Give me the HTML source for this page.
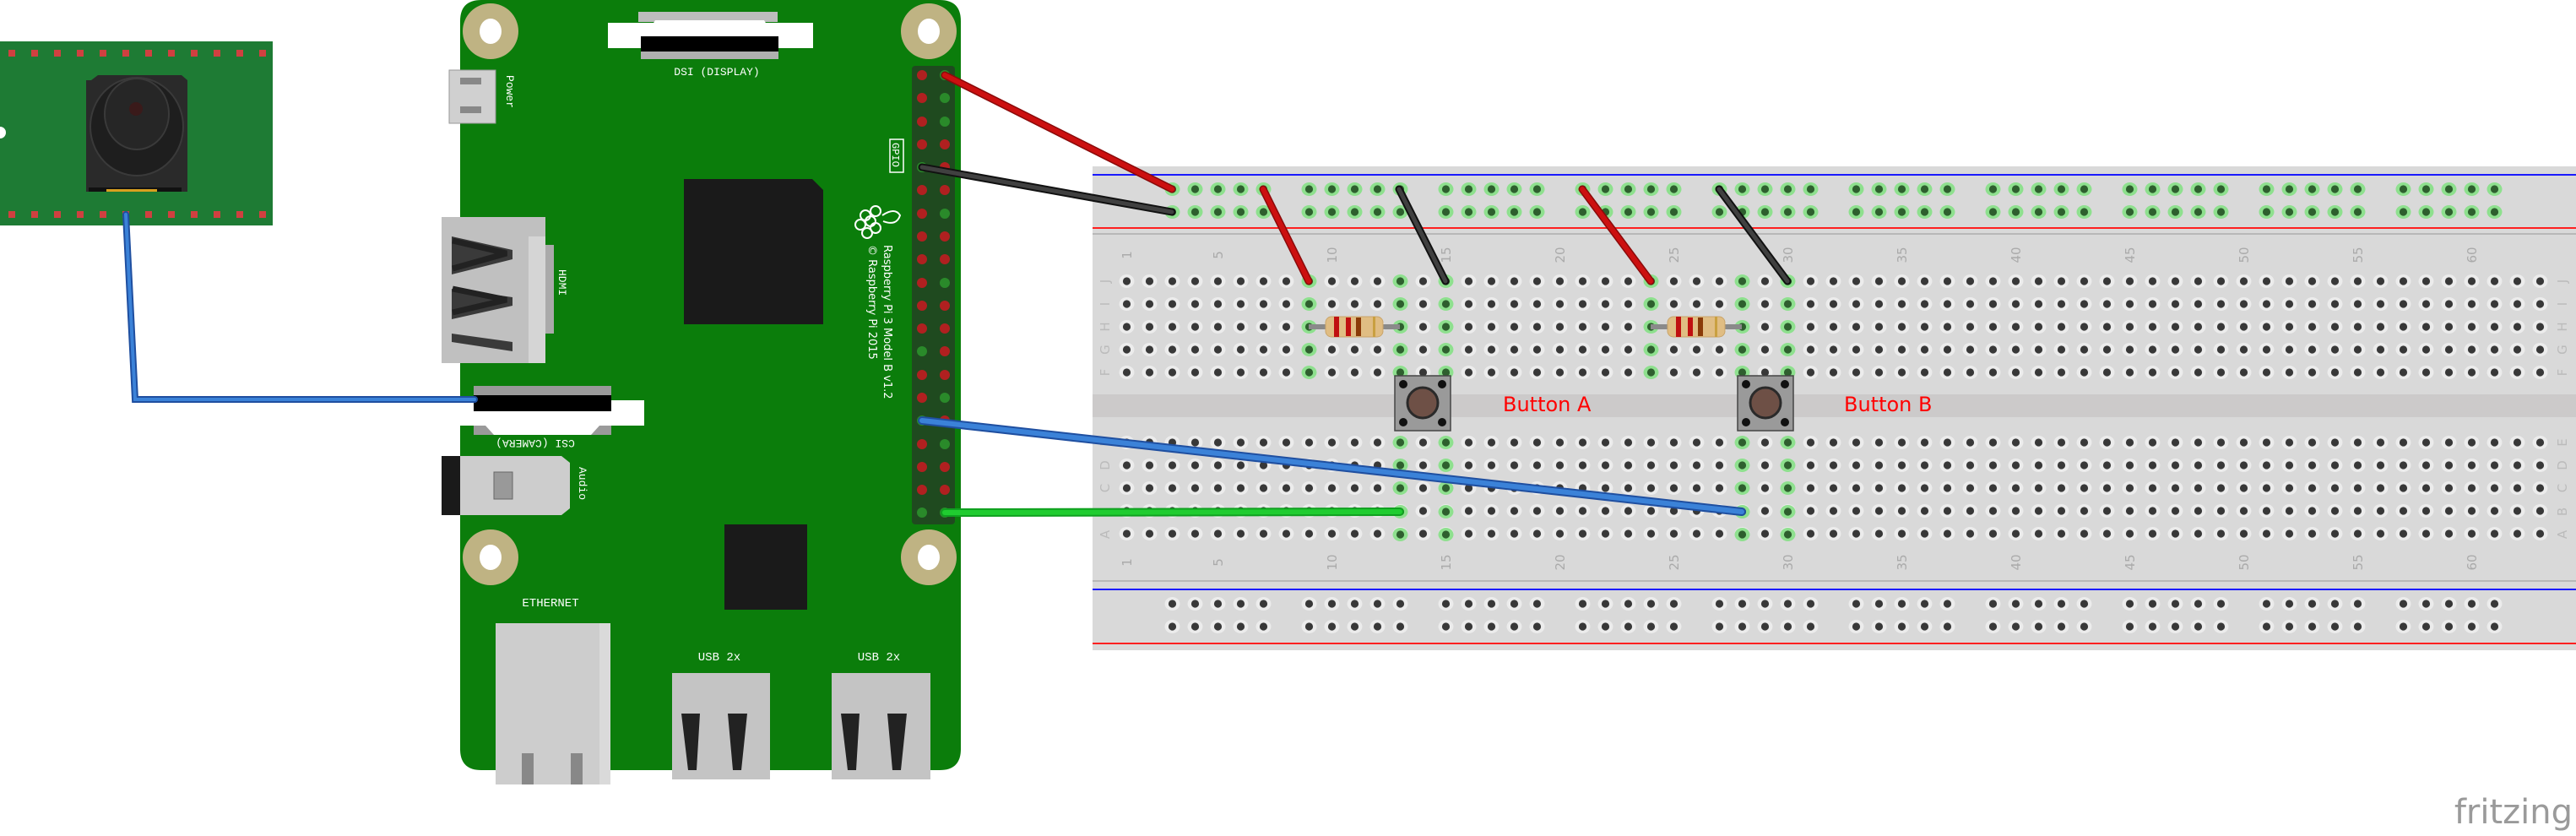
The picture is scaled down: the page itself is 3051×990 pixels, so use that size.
<!DOCTYPE html>
<html><head><meta charset="utf-8"><style>
html,body{margin:0;padding:0;background:#fff;}
svg{display:block;}
</style></head><body>
<svg width="3051" height="990" viewBox="0 0 3051 990" xmlns="http://www.w3.org/2000/svg">
<defs>
<pattern id="holes" x="1321" y="319.5" width="27" height="27" patternUnits="userSpaceOnUse">
<ellipse cx="13.5" cy="13.5" rx="9" ry="8" fill="#ececec"/><circle cx="13.5" cy="13.5" r="4.6" fill="#383838"/>
</pattern>
<pattern id="holesB" x="1321" y="510.5" width="27" height="27" patternUnits="userSpaceOnUse">
<ellipse cx="13.5" cy="13.5" rx="9" ry="8" fill="#ececec"/><circle cx="13.5" cy="13.5" r="4.6" fill="#383838"/>
</pattern>
<pattern id="railG" x="1375" y="210.5" width="162" height="27" patternUnits="userSpaceOnUse">
<g><ellipse cx="13.5" cy="13.5" rx="9" ry="8" fill="#8ee08e"/><circle cx="13.5" cy="13.5" r="4.6" fill="#2e5f2e"/>
<ellipse cx="40.5" cy="13.5" rx="9" ry="8" fill="#8ee08e"/><circle cx="40.5" cy="13.5" r="4.6" fill="#2e5f2e"/>
<ellipse cx="67.5" cy="13.5" rx="9" ry="8" fill="#8ee08e"/><circle cx="67.5" cy="13.5" r="4.6" fill="#2e5f2e"/>
<ellipse cx="94.5" cy="13.5" rx="9" ry="8" fill="#8ee08e"/><circle cx="94.5" cy="13.5" r="4.6" fill="#2e5f2e"/>
<ellipse cx="121.5" cy="13.5" rx="9" ry="8" fill="#8ee08e"/><circle cx="121.5" cy="13.5" r="4.6" fill="#2e5f2e"/></g>
</pattern>
<pattern id="railD" x="1375" y="701.5" width="162" height="27" patternUnits="userSpaceOnUse">
<ellipse cx="13.5" cy="13.5" rx="9" ry="8" fill="#ececec"/><circle cx="13.5" cy="13.5" r="4.6" fill="#383838"/>
<ellipse cx="40.5" cy="13.5" rx="9" ry="8" fill="#ececec"/><circle cx="40.5" cy="13.5" r="4.6" fill="#383838"/>
<ellipse cx="67.5" cy="13.5" rx="9" ry="8" fill="#ececec"/><circle cx="67.5" cy="13.5" r="4.6" fill="#383838"/>
<ellipse cx="94.5" cy="13.5" rx="9" ry="8" fill="#ececec"/><circle cx="94.5" cy="13.5" r="4.6" fill="#383838"/>
<ellipse cx="121.5" cy="13.5" rx="9" ry="8" fill="#ececec"/><circle cx="121.5" cy="13.5" r="4.6" fill="#383838"/>
</pattern>
<g id="gh"><ellipse cx="0" cy="0" rx="9" ry="8" fill="#8ee08e"/><circle cx="0" cy="0" r="4.6" fill="#2e5f2e"/></g>
</defs>

<!-- Breadboard -->
<rect x="1294" y="197" width="1757" height="573" fill="#d9d9d9"/>
<line x1="1294" y1="207" x2="3051" y2="207" stroke="#1a1aff" stroke-width="2"/>
<line x1="1294" y1="270" x2="3051" y2="270" stroke="#ff2020" stroke-width="2"/>
<line x1="1294" y1="277" x2="3051" y2="277" stroke="#b8b8b8" stroke-width="2"/>
<line x1="1294" y1="688" x2="3051" y2="688" stroke="#b8b8b8" stroke-width="2"/>
<line x1="1294" y1="698" x2="3051" y2="698" stroke="#1a1aff" stroke-width="2"/>
<line x1="1294" y1="762" x2="3051" y2="762" stroke="#ff2020" stroke-width="2"/>
<rect x="1294" y="467" width="1757" height="27" fill="#cccaca"/>
<rect x="1375" y="210.5" width="1593" height="54" fill="url(#railG)"/>
<rect x="1375" y="701.5" width="1593" height="54" fill="url(#railD)"/>
<rect x="1321" y="319.5" width="1701" height="135" fill="url(#holes)"/>
<rect x="1321" y="510.5" width="1701" height="135" fill="url(#holesB)"/>
<!-- green terminal holes -->
<g>
<use href="#gh" x="1550.5" y="333"/><use href="#gh" x="1550.5" y="360"/><use href="#gh" x="1550.5" y="387"/><use href="#gh" x="1550.5" y="414"/><use href="#gh" x="1550.5" y="441"/>
<use href="#gh" x="1658.5" y="333"/><use href="#gh" x="1658.5" y="360"/><use href="#gh" x="1658.5" y="387"/><use href="#gh" x="1658.5" y="414"/><use href="#gh" x="1658.5" y="441"/>
<use href="#gh" x="1712.5" y="333"/><use href="#gh" x="1712.5" y="360"/><use href="#gh" x="1712.5" y="387"/><use href="#gh" x="1712.5" y="414"/><use href="#gh" x="1712.5" y="441"/>
<use href="#gh" x="1955.5" y="333"/><use href="#gh" x="1955.5" y="360"/><use href="#gh" x="1955.5" y="387"/><use href="#gh" x="1955.5" y="414"/><use href="#gh" x="1955.5" y="441"/>
<use href="#gh" x="2063.5" y="333"/><use href="#gh" x="2063.5" y="360"/><use href="#gh" x="2063.5" y="387"/><use href="#gh" x="2063.5" y="414"/><use href="#gh" x="2063.5" y="441"/>
<use href="#gh" x="2117.5" y="333"/><use href="#gh" x="2117.5" y="360"/><use href="#gh" x="2117.5" y="387"/><use href="#gh" x="2117.5" y="414"/><use href="#gh" x="2117.5" y="441"/>
<use href="#gh" x="1658.5" y="524"/><use href="#gh" x="1658.5" y="551"/><use href="#gh" x="1658.5" y="578"/><use href="#gh" x="1658.5" y="606"/><use href="#gh" x="1658.5" y="633"/>
<use href="#gh" x="1712.5" y="524"/><use href="#gh" x="1712.5" y="551"/><use href="#gh" x="1712.5" y="578"/><use href="#gh" x="1712.5" y="606"/><use href="#gh" x="1712.5" y="633"/>
<use href="#gh" x="2063.5" y="524"/><use href="#gh" x="2063.5" y="551"/><use href="#gh" x="2063.5" y="578"/><use href="#gh" x="2063.5" y="606"/><use href="#gh" x="2063.5" y="633"/>
<use href="#gh" x="2117.5" y="524"/><use href="#gh" x="2117.5" y="551"/><use href="#gh" x="2117.5" y="578"/><use href="#gh" x="2117.5" y="606"/><use href="#gh" x="2117.5" y="633"/>
</g>
<!-- numbers -->
<g font-family="DejaVu Sans, sans-serif" font-size="15" fill="#aaaaaa" text-anchor="middle">
<text transform="translate(1340,302) rotate(-90)">1</text>
<text transform="translate(1448,302) rotate(-90)">5</text>
<text transform="translate(1583,302) rotate(-90)">10</text>
<text transform="translate(1718,302) rotate(-90)">15</text>
<text transform="translate(1853,302) rotate(-90)">20</text>
<text transform="translate(1988,302) rotate(-90)">25</text>
<text transform="translate(2123,302) rotate(-90)">30</text>
<text transform="translate(2258,302) rotate(-90)">35</text>
<text transform="translate(2393,302) rotate(-90)">40</text>
<text transform="translate(2528,302) rotate(-90)">45</text>
<text transform="translate(2663,302) rotate(-90)">50</text>
<text transform="translate(2798,302) rotate(-90)">55</text>
<text transform="translate(2933,302) rotate(-90)">60</text>
<text transform="translate(1340,666) rotate(-90)">1</text>
<text transform="translate(1448,666) rotate(-90)">5</text>
<text transform="translate(1583,666) rotate(-90)">10</text>
<text transform="translate(1718,666) rotate(-90)">15</text>
<text transform="translate(1853,666) rotate(-90)">20</text>
<text transform="translate(1988,666) rotate(-90)">25</text>
<text transform="translate(2123,666) rotate(-90)">30</text>
<text transform="translate(2258,666) rotate(-90)">35</text>
<text transform="translate(2393,666) rotate(-90)">40</text>
<text transform="translate(2528,666) rotate(-90)">45</text>
<text transform="translate(2663,666) rotate(-90)">50</text>
<text transform="translate(2798,666) rotate(-90)">55</text>
<text transform="translate(2933,666) rotate(-90)">60</text>
</g>
<g font-family="DejaVu Sans, sans-serif" font-size="15" fill="#bbbbbb" text-anchor="middle">
<text transform="translate(1314,333) rotate(-90)">J</text><text transform="translate(1314,360) rotate(-90)">I</text><text transform="translate(1314,387) rotate(-90)">H</text><text transform="translate(1314,414) rotate(-90)">G</text><text transform="translate(1314,441) rotate(-90)">F</text>
<text transform="translate(1314,524) rotate(-90)">E</text><text transform="translate(1314,551) rotate(-90)">D</text><text transform="translate(1314,578) rotate(-90)">C</text><text transform="translate(1314,606) rotate(-90)">B</text><text transform="translate(1314,633) rotate(-90)">A</text>
<text transform="translate(3040,333) rotate(-90)">J</text><text transform="translate(3040,360) rotate(-90)">I</text><text transform="translate(3040,387) rotate(-90)">H</text><text transform="translate(3040,414) rotate(-90)">G</text><text transform="translate(3040,441) rotate(-90)">F</text>
<text transform="translate(3040,524) rotate(-90)">E</text><text transform="translate(3040,551) rotate(-90)">D</text><text transform="translate(3040,578) rotate(-90)">C</text><text transform="translate(3040,606) rotate(-90)">B</text><text transform="translate(3040,633) rotate(-90)">A</text>
</g>

<!-- resistors -->
<g>
<line x1="1550" y1="387" x2="1658" y2="387" stroke="#8a8a8a" stroke-width="6"/>
<rect x="1570" y="375" width="68" height="24" rx="7" fill="#e0bd83" stroke="#c9a46a"/>
<rect x="1580" y="375" width="6" height="24" fill="#c01010"/><rect x="1594" y="376" width="6" height="22" fill="#c01010"/><rect x="1606" y="376" width="6" height="22" fill="#8a3a08"/><rect x="1626" y="375" width="3" height="24" fill="#c9a040"/>
<line x1="1955" y1="387" x2="2063" y2="387" stroke="#8a8a8a" stroke-width="6"/>
<rect x="1975" y="375" width="68" height="24" rx="7" fill="#e0bd83" stroke="#c9a46a"/>
<rect x="1985" y="375" width="6" height="24" fill="#c01010"/><rect x="1999" y="376" width="6" height="22" fill="#c01010"/><rect x="2011" y="376" width="6" height="22" fill="#8a3a08"/><rect x="2031" y="375" width="3" height="24" fill="#c9a040"/>
</g>
<!-- buttons -->
<g>
<rect x="1652" y="445" width="66" height="65" fill="#9a9a9a" stroke="#444" stroke-width="1.5"/>
<circle cx="1685" cy="477" r="18" fill="#6e5046" stroke="#2a2a2a" stroke-width="3"/>
<circle cx="1662" cy="455" r="5" fill="#111"/><circle cx="1708" cy="455" r="5" fill="#111"/><circle cx="1662" cy="500" r="5" fill="#111"/><circle cx="1708" cy="500" r="5" fill="#111"/>
<rect x="2058" y="445" width="66" height="65" fill="#9a9a9a" stroke="#444" stroke-width="1.5"/>
<circle cx="2091" cy="477" r="18" fill="#6e5046" stroke="#2a2a2a" stroke-width="3"/>
<circle cx="2068" cy="455" r="5" fill="#111"/><circle cx="2114" cy="455" r="5" fill="#111"/><circle cx="2068" cy="500" r="5" fill="#111"/><circle cx="2114" cy="500" r="5" fill="#111"/>
</g>
<g font-family="DejaVu Sans, sans-serif" font-size="24" fill="#ff0000">
<text x="1780" y="487">Button A</text>
<text x="2184" y="487">Button B</text>
</g>

<!-- Camera module -->
<rect x="0" y="49" width="323" height="218" fill="#1e7b34"/>
<circle cx="0" cy="157" r="7" fill="#fff"/>
<g fill="#d04040">
<rect x="10" y="59" width="8" height="8"/><rect x="37" y="59" width="8" height="8"/><rect x="64" y="59" width="8" height="8"/><rect x="91" y="59" width="8" height="8"/><rect x="118" y="59" width="8" height="8"/><rect x="145" y="59" width="8" height="8"/><rect x="172" y="59" width="8" height="8"/><rect x="199" y="59" width="8" height="8"/><rect x="226" y="59" width="8" height="8"/><rect x="253" y="59" width="8" height="8"/><rect x="280" y="59" width="8" height="8"/><rect x="307" y="59" width="8" height="8"/>
<rect x="10" y="250" width="8" height="8"/><rect x="37" y="250" width="8" height="8"/><rect x="64" y="250" width="8" height="8"/><rect x="91" y="250" width="8" height="8"/><rect x="118" y="250" width="8" height="8"/><rect x="145" y="250" width="8" height="8"/><rect x="172" y="250" width="8" height="8"/><rect x="199" y="250" width="8" height="8"/><rect x="226" y="250" width="8" height="8"/><rect x="253" y="250" width="8" height="8"/><rect x="280" y="250" width="8" height="8"/><rect x="307" y="250" width="8" height="8"/>
</g>
<path d="M108 95 L116 89 L215 89 L222 95 L222 227 L102 227 L102 95 Z" fill="#2a2a2a"/>
<ellipse cx="162" cy="150" rx="55" ry="58" fill="#1e1e1e" stroke="#3a3a3a" stroke-width="2"/>
<ellipse cx="162" cy="135" rx="38" ry="42" fill="#262626" stroke="#3a3a3a" stroke-width="2"/>
<circle cx="161" cy="129" r="8" fill="#3a1a1a"/>
<rect x="105" y="222" width="110" height="5" fill="#111"/>
<rect x="126" y="224" width="60" height="3" fill="#d8a020"/>

<!-- Raspberry Pi -->
<path d="M570 0 H1113 Q1138 0 1138 25 V887 Q1138 912 1113 912 H570 Q545 912 545 887 V25 Q545 0 570 0 Z" fill="#0b7d0b"/>
<g fill="#bfb383"><circle cx="581" cy="37" r="33"/><circle cx="1100" cy="37" r="33"/><circle cx="581" cy="660" r="33"/><circle cx="1100" cy="660" r="33"/></g>
<g fill="#fff"><ellipse cx="581" cy="37" rx="13" ry="15"/><ellipse cx="1100" cy="37" rx="13" ry="15"/><ellipse cx="581" cy="660" rx="13" ry="15"/><ellipse cx="1100" cy="660" rx="13" ry="15"/></g>
<!-- DSI -->
<rect x="756" y="14" width="165" height="12" fill="#bdbdbd"/>
<rect x="720" y="27" width="243" height="30" fill="#fff"/>
<path d="M776 24 H905 L915 40 H766 Z" fill="#fff"/>
<rect x="759" y="43" width="163" height="18" fill="#000"/>
<rect x="759" y="61" width="163" height="9" fill="#b0b0b0"/>
<text x="849" y="89" font-family="Liberation Mono, monospace" font-size="13" fill="#fff" text-anchor="middle">DSI (DISPLAY)</text>
<!-- Power -->
<rect x="532" y="83" width="55" height="63" fill="#d0d0d0" stroke="#999"/>
<rect x="545" y="92" width="25" height="8" fill="#888"/><rect x="545" y="126" width="25" height="8" fill="#888"/>
<text transform="translate(600,89) rotate(90)" font-family="Liberation Mono, monospace" font-size="13" fill="#fff">Power</text>
<!-- HDMI -->
<rect x="523" y="257" width="123" height="173" fill="#c0c0c0"/>
<rect x="626" y="280" width="20" height="150" fill="#d5d5d5"/>
<rect x="646" y="290" width="10" height="105" fill="#aaa"/>
<g fill="none" stroke="#222" stroke-width="7">
<path d="M536 285 L600 300 L536 318"/>
<path d="M536 342 L600 355 L536 370"/>
<path d="M536 400 L600 390 L536 340" stroke-width="0"/>
</g>
<path d="M535 280 L607 296 L607 307 L535 325 Z M535 342 L607 352 L607 362 L535 378 Z M535 395 L607 405 L607 416 L535 405 Z" fill="#222" opacity="0.85"/>
<text transform="translate(662,319) rotate(90)" font-family="Liberation Mono, monospace" font-size="13" fill="#fff">HDMI</text>
<!-- CSI -->
<rect x="561" y="457" width="163" height="11" fill="#9a9a9a"/>
<rect x="545" y="474" width="218" height="30" fill="#fff"/>
<rect x="561" y="468" width="163" height="19" fill="#000"/>
<rect x="561" y="504" width="163" height="11" fill="#9a9a9a"/>
<path d="M575 504 H710 L700 515 H585 Z" fill="#fff"/>
<text transform="translate(634,521) rotate(180)" font-family="Liberation Mono, monospace" font-size="13" fill="#fff" text-anchor="middle">CSI (CAMERA)</text>
<!-- Audio -->
<rect x="523" y="540" width="22" height="70" fill="#1a1a1a"/>
<path d="M545 540 H665 L675 548 V602 L665 610 H545 Z" fill="#cdcdcd"/>
<rect x="585" y="559" width="22" height="32" fill="#999" stroke="#666"/>
<text transform="translate(686,553) rotate(90)" font-family="Liberation Mono, monospace" font-size="13" fill="#fff">Audio</text>
<!-- chips -->
<path d="M810 212 H962 L975 225 V384 H810 Z" fill="#1a1a1a"/>
<rect x="858" y="621" width="98" height="101" fill="#1a1a1a"/>
<!-- logo -->
<g fill="none" stroke="#fff" stroke-width="2">
<circle cx="1025" cy="255" r="6"/><circle cx="1037" cy="250" r="6"/><circle cx="1031" cy="262" r="6"/><circle cx="1019" cy="266" r="6"/><circle cx="1037" cy="270" r="6"/><circle cx="1027" cy="276" r="6"/>
<path d="M1045 255 Q1060 245 1066 255 Q1062 268 1046 262"/>
</g>
<text transform="translate(1047,290) rotate(90)" font-family="DejaVu Sans, sans-serif" font-size="13" fill="#fff">Raspberry Pi 3 Model B v1.2</text>
<text transform="translate(1029,290) rotate(90)" font-family="DejaVu Sans, sans-serif" font-size="13" fill="#fff">© Raspberry Pi 2015</text>
<rect x="1054" y="165" width="16" height="39" fill="none" stroke="#fff" stroke-width="1.5"/>
<text transform="translate(1057,169) rotate(90)" font-family="Liberation Mono, monospace" font-size="12" fill="#fff">GPIO</text>
<!-- GPIO -->
<rect x="1080" y="78" width="51" height="543" rx="4" fill="#1f4a1f"/>
<g id="pinsL">
<circle cx="1092" cy="89" r="6" fill="#b02020"/><circle cx="1092" cy="116" r="6" fill="#b02020"/><circle cx="1092" cy="144" r="6" fill="#b02020"/><circle cx="1092" cy="171" r="6" fill="#b02020"/><circle cx="1092" cy="198" r="6" fill="#2a8a2a"/><circle cx="1092" cy="225" r="6" fill="#b02020"/><circle cx="1092" cy="253" r="6" fill="#b02020"/><circle cx="1092" cy="280" r="6" fill="#b02020"/><circle cx="1092" cy="307" r="6" fill="#b02020"/><circle cx="1092" cy="335" r="6" fill="#b02020"/><circle cx="1092" cy="362" r="6" fill="#b02020"/><circle cx="1092" cy="389" r="6" fill="#b02020"/><circle cx="1092" cy="416" r="6" fill="#2a8a2a"/><circle cx="1092" cy="444" r="6" fill="#b02020"/><circle cx="1092" cy="471" r="6" fill="#b02020"/><circle cx="1092" cy="498" r="6" fill="#2a8a2a"/><circle cx="1092" cy="526" r="6" fill="#b02020"/><circle cx="1092" cy="553" r="6" fill="#b02020"/><circle cx="1092" cy="580" r="6" fill="#b02020"/><circle cx="1092" cy="607" r="6" fill="#2a8a2a"/>
<circle cx="1119" cy="89" r="6" fill="#2a8a2a"/><circle cx="1119" cy="116" r="6" fill="#2a8a2a"/><circle cx="1119" cy="144" r="6" fill="#2a8a2a"/><circle cx="1119" cy="171" r="6" fill="#b02020"/><circle cx="1119" cy="198" r="6" fill="#b02020"/><circle cx="1119" cy="225" r="6" fill="#b02020"/><circle cx="1119" cy="253" r="6" fill="#2a8a2a"/><circle cx="1119" cy="280" r="6" fill="#b02020"/><circle cx="1119" cy="307" r="6" fill="#b02020"/><circle cx="1119" cy="335" r="6" fill="#2a8a2a"/><circle cx="1119" cy="362" r="6" fill="#b02020"/><circle cx="1119" cy="389" r="6" fill="#b02020"/><circle cx="1119" cy="416" r="6" fill="#b02020"/><circle cx="1119" cy="444" r="6" fill="#b02020"/><circle cx="1119" cy="471" r="6" fill="#2a8a2a"/><circle cx="1119" cy="498" r="6" fill="#b02020"/><circle cx="1119" cy="526" r="6" fill="#2a8a2a"/><circle cx="1119" cy="553" r="6" fill="#b02020"/><circle cx="1119" cy="580" r="6" fill="#b02020"/><circle cx="1119" cy="607" r="6" fill="#2a8a2a"/>
</g>
<!-- Ethernet -->
<text x="652" y="718" font-family="Liberation Mono, monospace" font-size="14" fill="#fff" text-anchor="middle">ETHERNET</text>
<rect x="587" y="738" width="136" height="191" fill="#cdcdcd"/>
<rect x="710" y="738" width="13" height="191" fill="#dadada"/>
<rect x="618" y="892" width="14" height="37" fill="#888"/><rect x="676" y="892" width="14" height="37" fill="#888"/>
<!-- USB -->
<text x="852" y="782" font-family="Liberation Mono, monospace" font-size="14" fill="#fff" text-anchor="middle">USB 2x</text>
<rect x="796" y="797" width="116" height="126" fill="#c4c4c4"/>
<path d="M807 845 L815 912 H825 L829 845 Z M862 845 L868 912 H878 L885 845 Z" fill="#222"/>
<text x="1041" y="782" font-family="Liberation Mono, monospace" font-size="14" fill="#fff" text-anchor="middle">USB 2x</text>
<rect x="985" y="797" width="117" height="126" fill="#c4c4c4"/>
<path d="M996 845 L1004 912 H1014 L1018 845 Z M1051 845 L1057 912 H1067 L1074 845 Z" fill="#222"/>

<!-- wires -->
<g stroke-linecap="round" fill="none">
<path d="M149 254 L160 473 L562 473" stroke="#1f4fa0" stroke-width="8"/>
<path d="M149 254 L160 473 L562 473" stroke="#3b82d8" stroke-width="4"/>
<line x1="1119" y1="89" x2="1388" y2="224" stroke="#8a0a0a" stroke-width="9"/>
<line x1="1119" y1="89" x2="1388" y2="224" stroke="#cc1010" stroke-width="6"/>
<line x1="1092" y1="198" x2="1388" y2="251" stroke="#111" stroke-width="9"/>
<line x1="1092" y1="198" x2="1388" y2="251" stroke="#404040" stroke-width="5"/>
<line x1="1496" y1="224" x2="1550" y2="333" stroke="#8a0a0a" stroke-width="9"/>
<line x1="1496" y1="224" x2="1550" y2="333" stroke="#cc1010" stroke-width="6"/>
<line x1="1657" y1="224" x2="1712" y2="333" stroke="#111" stroke-width="9"/>
<line x1="1657" y1="224" x2="1712" y2="333" stroke="#404040" stroke-width="5"/>
<line x1="1874" y1="224" x2="1955" y2="333" stroke="#8a0a0a" stroke-width="9"/>
<line x1="1874" y1="224" x2="1955" y2="333" stroke="#cc1010" stroke-width="6"/>
<line x1="2036" y1="224" x2="2117" y2="333" stroke="#111" stroke-width="9"/>
<line x1="2036" y1="224" x2="2117" y2="333" stroke="#404040" stroke-width="5"/>
<line x1="1119" y1="607" x2="1658" y2="606" stroke="#10a020" stroke-width="10"/>
<line x1="1119" y1="607" x2="1658" y2="606" stroke="#20cc30" stroke-width="6"/>
<line x1="1092" y1="498" x2="2063" y2="606" stroke="#1f4fa0" stroke-width="10"/>
<line x1="1092" y1="498" x2="2063" y2="606" stroke="#3b82d8" stroke-width="6"/>
</g>

<text x="3047" y="975" font-family="DejaVu Sans, sans-serif" font-size="40" fill="#9a9a9a" text-anchor="end">fritzing</text>
</svg>
</body></html>
